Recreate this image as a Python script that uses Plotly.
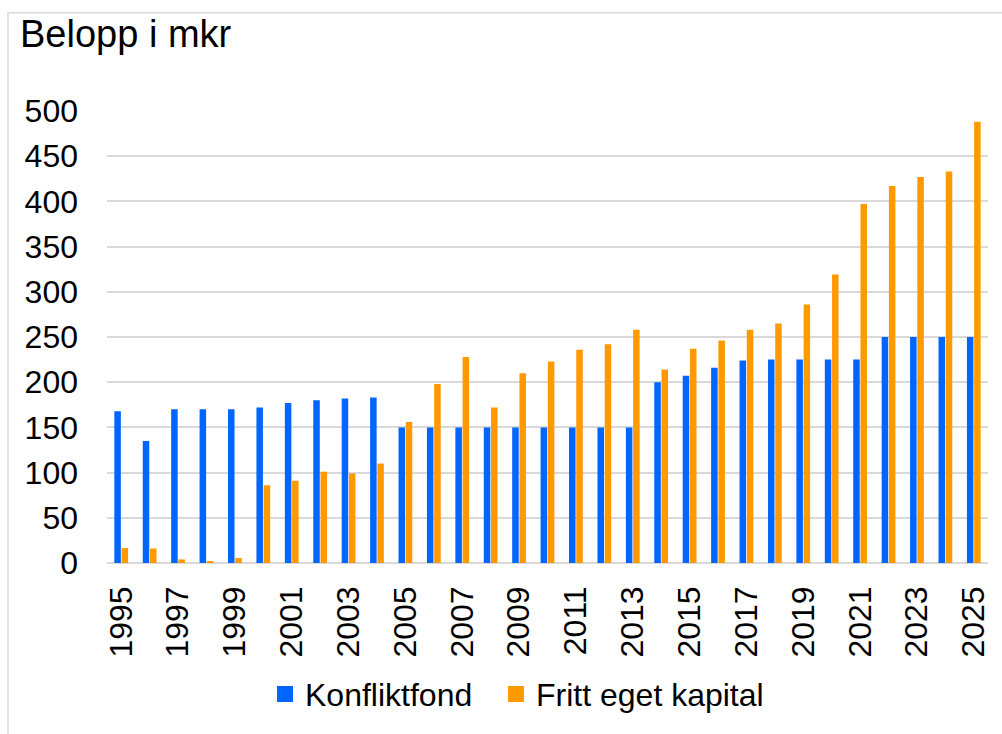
import plotly.graph_objects as go

years = list(range(1995, 2026))
konfliktfond = [168, 135, 170, 170, 170, 172, 177, 180, 182, 183,
                150, 150, 150, 150, 150, 150, 150, 150, 150, 200,
                207, 216, 224, 225, 225, 225, 225, 250, 250, 250, 250]
fritt_eget_kapital = [16.5, 16, 4, 2, 5.5, 86, 91, 101, 99, 110,
                      156, 198, 228, 172, 210, 223, 236, 242, 258, 214,
                      237, 246, 258, 265, 286, 319, 397, 417, 427, 433, 488]
series_names = ["Konfliktfond", "Fritt eget kapital"]
series_colors = ["#0066FF", "#FF9900"]
x_ticks = list(range(1995, 2026, 2))
y_ticks = list(range(0, 501, 50))

W, H = 1002, 734
L, R, T, B = 107, 14, 111, 168
pw, ph = W - L - R, H - T - B

fig = go.Figure()
for vals, name, col in zip([konfliktfond, fritt_eget_kapital], series_names, series_colors):
    fig.add_trace(go.Bar(x=years, y=vals, name=name, showlegend=False,
                         marker=dict(color=col, line=dict(width=0))))
# legend entries with larger square swatches, one legend box per entry
for name, col, lg in zip(series_names, series_colors, ["legend", "legend2"]):
    fig.add_trace(go.Scatter(x=[None], y=[None], mode="markers", name=name, legend=lg,
                             marker=dict(symbol="square", size=16, color=col)))

font = "Liberation Sans, Arial, sans-serif"
leg_y = (H - B - 698) / ph
fig.update_layout(
    width=W, height=H,
    margin=dict(l=L, r=R, t=T, b=B),
    paper_bgcolor="white", plot_bgcolor="white",
    barmode="group", bargap=0.49, bargroupgap=0.1,
    font=dict(family=font, size=32, color="black"),
    title=dict(text="Belopp i mkr", font=dict(size=38, family=font, color="black"),
               x=20 / W, xref="container", xanchor="left",
               y=1 - 20 / H, yref="container", yanchor="top"),
    xaxis=dict(range=[1994.5, 2025.5], tickvals=x_ticks, ticktext=[str(v) for v in x_ticks],
               tickangle=-90, showgrid=False, zeroline=False, showline=False,
               ticks="", ticklabelstandoff=16, tickfont=dict(size=32)),
    yaxis=dict(range=[0, 500], tickvals=y_ticks, showgrid=True, gridcolor="#D9D9D9",
               gridwidth=1.5, zeroline=True, zerolinecolor="#D9D9D9", zerolinewidth=1.5,
               showline=False, ticks="", ticklabelstandoff=28, tickfont=dict(size=32)),
    legend=dict(orientation="h", x=(265 - L) / pw, xanchor="left",
                y=leg_y, yanchor="middle", font=dict(size=32)),
    legend2=dict(orientation="h", x=(496 - L) / pw, xanchor="left",
                 y=leg_y, yanchor="middle", font=dict(size=32)),
    showlegend=True,
)

fig.add_shape(type="rect", xref="paper", yref="paper",
              x0=(8 - L) / pw, x1=(W + 10 - L) / pw,
              y0=(H - B - H - 10) / ph, y1=(H - B - 12) / ph,
              line=dict(color="#D9D9D9", width=1.5), fillcolor="rgba(0,0,0,0)", layer="below")

fig.write_html("out.html", config={"displayModeBar": False},
               post_script="document.body.style.margin='0px';")
